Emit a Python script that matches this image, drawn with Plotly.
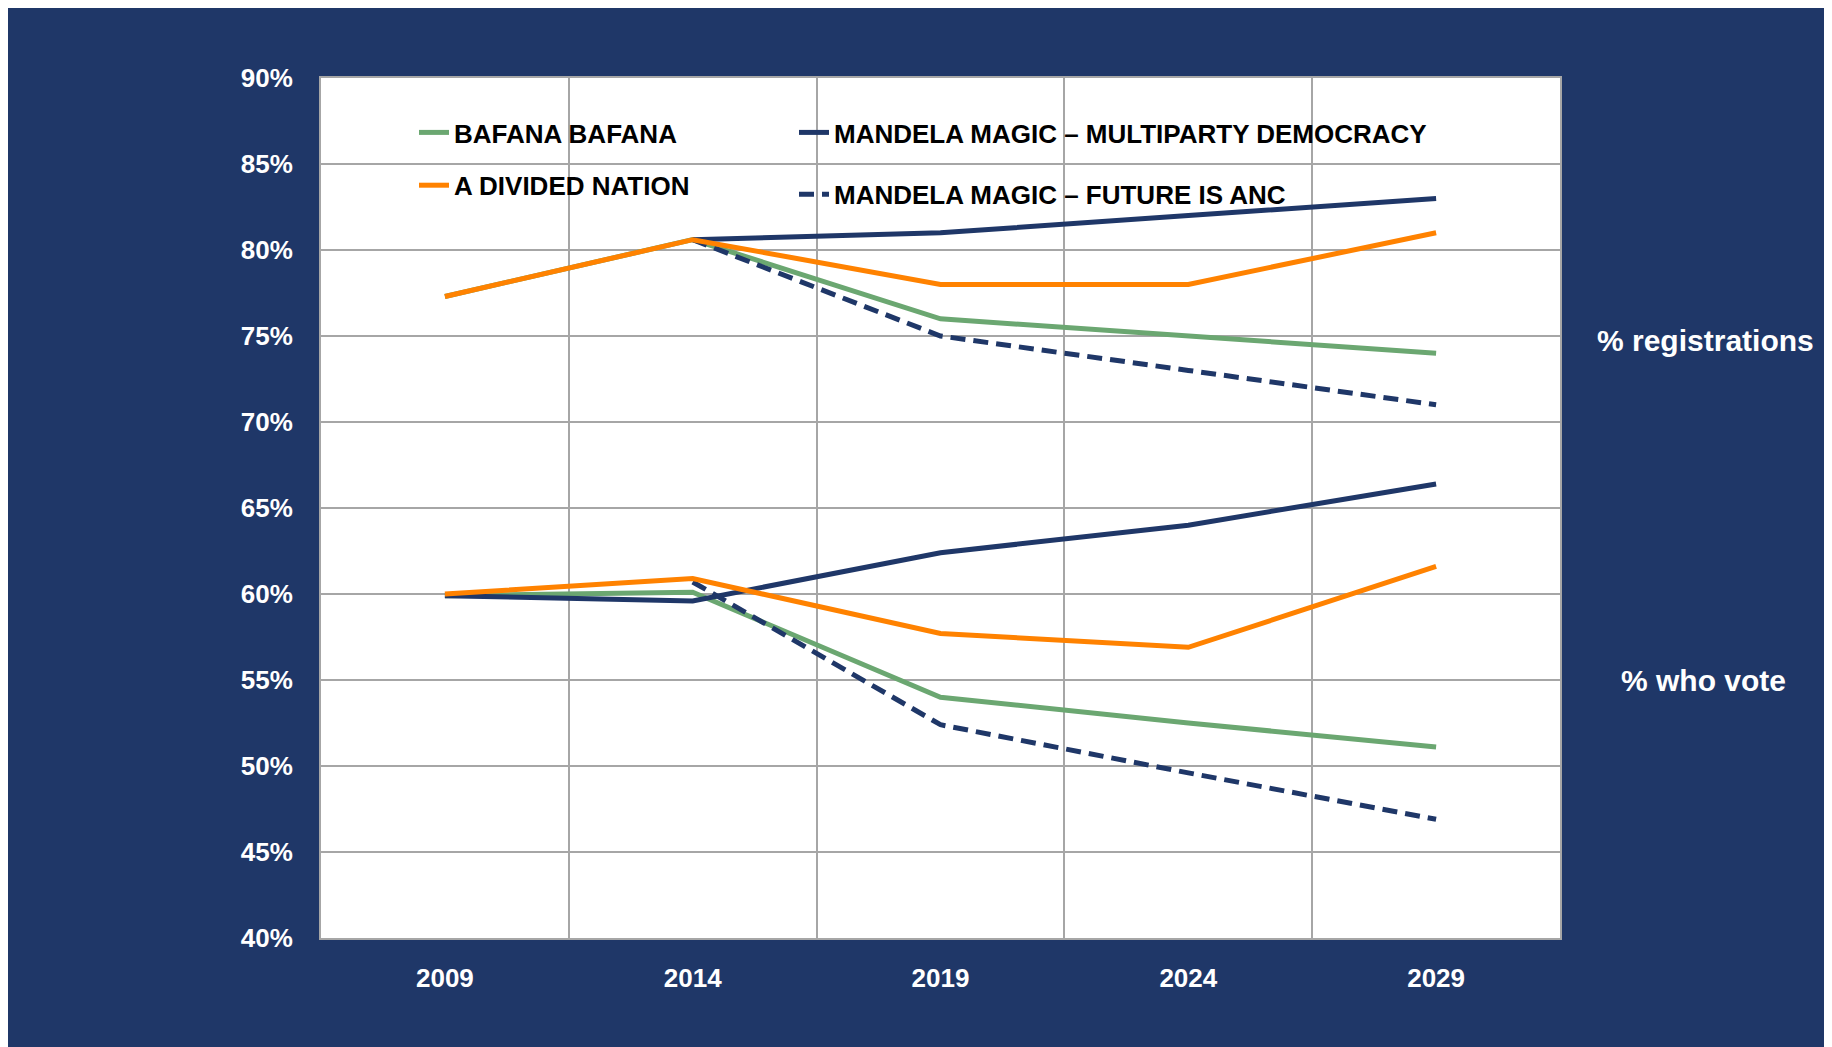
import plotly.graph_objects as go

years = ["2009", "2014", "2019", "2024", "2029"]

# % registrations
reg_bafana = [77.3, 80.6, 76.0, 75.0, 74.0]
reg_divided = [77.3, 80.6, 78.0, 78.0, 81.0]
reg_multiparty = [None, 80.6, 81.0, 82.0, 83.0]
reg_future = [None, 80.6, 75.0, 73.0, 71.0]

# % who vote
vote_bafana = [59.9, 60.1, 54.0, 52.5, 51.1]
vote_divided = [60.0, 60.9, 57.7, 56.9, 61.6]
vote_multiparty = [59.9, 59.6, 62.4, 64.0, 66.4]
vote_future = [None, 60.7, 52.4, 49.6, 46.9]

names = {
    "bafana": "BAFANA BAFANA",
    "divided": "A DIVIDED NATION",
    "multiparty": "MANDELA MAGIC \u2013 MULTIPARTY DEMOCRACY",
    "future": "MANDELA MAGIC \u2013 FUTURE IS ANC",
}

NAVY = "#1F3768"
GREEN = "#6BA771"
ORANGE = "#FF8200"
GRID = "#A6A6A6"
SANS = "Liberation Sans, Arial, sans-serif"

x = list(range(len(years)))

styles = {
    "bafana": dict(color=GREEN, width=5),
    "multiparty": dict(color=NAVY, width=5),
    "future": dict(color=NAVY, width=5, dash="15px,8px"),
    "divided": dict(color=ORANGE, width=5),
}
legend_of = {"bafana": "legend", "divided": "legend", "multiparty": "legend2", "future": "legend2"}

fig = go.Figure()
order = ["bafana", "multiparty", "future", "divided"]
reg = {"bafana": reg_bafana, "divided": reg_divided, "multiparty": reg_multiparty, "future": reg_future}
vote = {"bafana": vote_bafana, "divided": vote_divided, "multiparty": vote_multiparty, "future": vote_future}

for key in order:
    fig.add_trace(go.Scatter(
        x=x, y=reg[key], mode="lines", name=names[key], line=styles[key],
        legend=legend_of[key], legendgroup=key, showlegend=True,
    ))
for key in order:
    fig.add_trace(go.Scatter(
        x=x, y=vote[key], mode="lines", name=names[key], line=styles[key],
        legend=legend_of[key], legendgroup=key, showlegend=False,
    ))

W, H = 1824, 1039
L, R, T, B = 313, 272, 70, 109
pw, ph = W - L - R, H - T - B
OFF = 8  # page margin offset in the screenshot


def fx(p):
    return (p - OFF - L) / pw


def fy(p):
    return (H - B - (p - OFF)) / ph


tick_font = dict(family=SANS, size=26, color="white", weight="bold")
legend_font = dict(family=SANS, size=26, color="black", weight="bold")

fig.update_layout(
    width=W, height=H,
    margin=dict(l=L, r=R, t=T, b=B),
    paper_bgcolor=NAVY,
    plot_bgcolor="white",
    xaxis=dict(
        range=[-0.5, 4.5], tickvals=x, ticktext=years,
        showgrid=False, zeroline=False,
        showline=True, linecolor=GRID, linewidth=2, mirror=True,
        ticks="", tickfont=tick_font, ticklabelstandoff=16,
        minor=dict(tickvals=[0.5, 1.5, 2.5, 3.5], showgrid=True, gridcolor=GRID, gridwidth=1.5, ticks=""),
        fixedrange=True,
    ),
    yaxis=dict(
        range=[40, 90], dtick=5, tick0=40, ticksuffix="%",
        showgrid=True, gridcolor=GRID, gridwidth=2, zeroline=False,
        showline=True, linecolor=GRID, linewidth=2, mirror=True,
        ticks="", tickfont=tick_font, ticklabelstandoff=21,
        fixedrange=True,
    ),
    legend=dict(
        x=fx(414), y=fy(109), xanchor="left", yanchor="top",
        bgcolor="rgba(0,0,0,0)", font=legend_font, tracegroupgap=16,
        orientation="v",
    ),
    legend2=dict(
        x=fx(794), y=fy(109), xanchor="left", yanchor="top",
        bgcolor="rgba(0,0,0,0)", font=legend_font, tracegroupgap=25,
        orientation="v",
    ),
    showlegend=True,
    annotations=[
        dict(text="% registrations", x=fx(1706), y=fy(340), xref="paper", yref="paper",
             showarrow=False, xanchor="center", yanchor="middle",
             font=dict(family=SANS, size=30, color="white", weight="bold")),
        dict(text="% who vote", x=fx(1703), y=fy(680), xref="paper", yref="paper",
             showarrow=False, xanchor="center", yanchor="middle",
             font=dict(family=SANS, size=30, color="white", weight="bold")),
    ],
)

fig.write_html("out.html")
